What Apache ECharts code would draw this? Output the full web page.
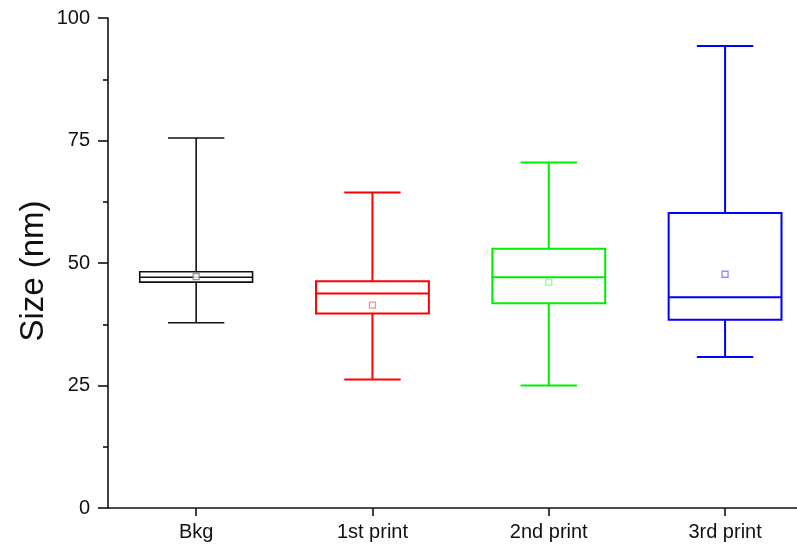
<!DOCTYPE html>
<html>
<head>
<meta charset="utf-8">
<script src="https://cdn.jsdelivr.net/npm/echarts@6/dist/echarts.min.js"></script>
<style>
  html, body { margin: 0; padding: 0; background: #fff; }
  #chart { width: 797px; height: 550px; }
</style>
</head>
<body>
<div id="chart"></div>
<script>
// Particle size distribution per print stage (nm)
const categories = ['Bkg', '1st print', '2nd print', '3rd print'];
const whiskerLow = [37.8, 26.2, 25.0, 30.8];
const q1 = [46.1, 39.7, 41.8, 38.4];
const median = [47.1, 43.8, 47.1, 43.0];
const q3 = [48.2, 46.3, 52.9, 60.2];
const whiskerHigh = [75.5, 64.4, 70.5, 94.3];
const means = [47.2, 41.4, 46.1, 47.7];
const yTicks = [0, 25, 50, 75, 100];

const boxColors = ['#111111', '#ff0000', '#00ee00', '#0000ff'];
const meanColors = ['#7a7a7a', '#ff7070', '#70ff70', '#7070ff'];

const catIndex = categories.map((c, i) => i);
const boxData = catIndex.map(i => [i, whiskerLow[i], q1[i], median[i], q3[i], whiskerHigh[i]]);
const meanData = catIndex.map(i => ({
  value: [i, means[i]],
  itemStyle: { color: '#fff', borderColor: meanColors[i], borderWidth: 1.3 }
}));

const font = '"Liberation Sans", Arial, sans-serif';
const axisColor = '#111';

function renderBox(params, api) {
  const i = api.value(0);
  const band = api.size([1, 0])[0];
  const boxHalf = band * 0.32;
  const capHalf = band * 0.16;
  const pLow = api.coord([i, api.value(1)]);
  const pQ1 = api.coord([i, api.value(2)]);
  const pMed = api.coord([i, api.value(3)]);
  const pQ3 = api.coord([i, api.value(4)]);
  const pHigh = api.coord([i, api.value(5)]);
  const x = pQ1[0];
  const color = boxColors[params.dataIndex];
  const lw = params.dataIndex === 0 ? 1.6 : 2;
  const style = { stroke: color, lineWidth: lw, fill: null };
  return {
    type: 'group',
    children: [
      { type: 'line', shape: { x1: x, y1: pHigh[1], x2: x, y2: pQ3[1] }, style },
      { type: 'line', shape: { x1: x, y1: pQ1[1], x2: x, y2: pLow[1] }, style },
      { type: 'line', shape: { x1: x - capHalf, y1: pHigh[1], x2: x + capHalf, y2: pHigh[1] }, style },
      { type: 'line', shape: { x1: x - capHalf, y1: pLow[1], x2: x + capHalf, y2: pLow[1] }, style },
      { type: 'rect', shape: { x: x - boxHalf, y: pQ3[1], width: boxHalf * 2, height: pQ1[1] - pQ3[1] }, style: { stroke: color, lineWidth: lw, fill: 'transparent' } },
      { type: 'line', shape: { x1: x - boxHalf, y1: pMed[1], x2: x + boxHalf, y2: pMed[1] }, style }
    ]
  };
}

const chart = echarts.init(document.getElementById('chart'), null, { renderer: 'canvas' });
chart.setOption({
  animation: false,
  backgroundColor: '#fff',
  grid: { left: 108, top: 18, right: 0, bottom: 42 },
  xAxis: {
    type: 'value',
    min: -0.5,
    max: 3.408,
    axisLine: { show: true, onZero: false, lineStyle: { color: axisColor, width: 1.6 } },
    axisTick: { show: true, customValues: catIndex, length: 8, lineStyle: { color: axisColor, width: 1.6 } },
    axisLabel: {
      customValues: catIndex,
      color: '#111', fontFamily: font, fontSize: 20, margin: 14,
      formatter: v => categories[Math.round(v)]
    },
    splitLine: { show: false }
  },
  yAxis: {
    type: 'value',
    min: 0,
    max: 100,
    interval: 25,
    name: 'Size (nm)',
    nameLocation: 'middle',
    nameGap: 58,
    nameMoveOverlap: false,
    nameTextStyle: { color: '#111', fontFamily: font, fontSize: 33, padding: [0, 16, 0, 0] },
    axisLine: { show: true, onZero: false, lineStyle: { color: axisColor, width: 1.6 } },
    axisTick: { show: true, length: 10, lineStyle: { color: axisColor, width: 1.6 } },
    minorTick: { show: true, splitNumber: 2, length: 5, lineStyle: { color: axisColor, width: 1.6 } },
    axisLabel: {
      color: '#111', fontFamily: font, fontSize: 20, margin: 18,
      formatter: v => (yTicks.indexOf(v) >= 0 ? String(v) : '')
    },
    splitLine: { show: false }
  },
  series: [
    {
      type: 'custom',
      renderItem: renderBox,
      encode: { x: 0, y: [1, 2, 3, 4, 5] },
      data: boxData,
      z: 2
    },
    {
      type: 'scatter',
      data: meanData,
      symbol: 'rect',
      symbolSize: 6,
      z: 3
    }
  ]
});
</script>
</body>
</html>
